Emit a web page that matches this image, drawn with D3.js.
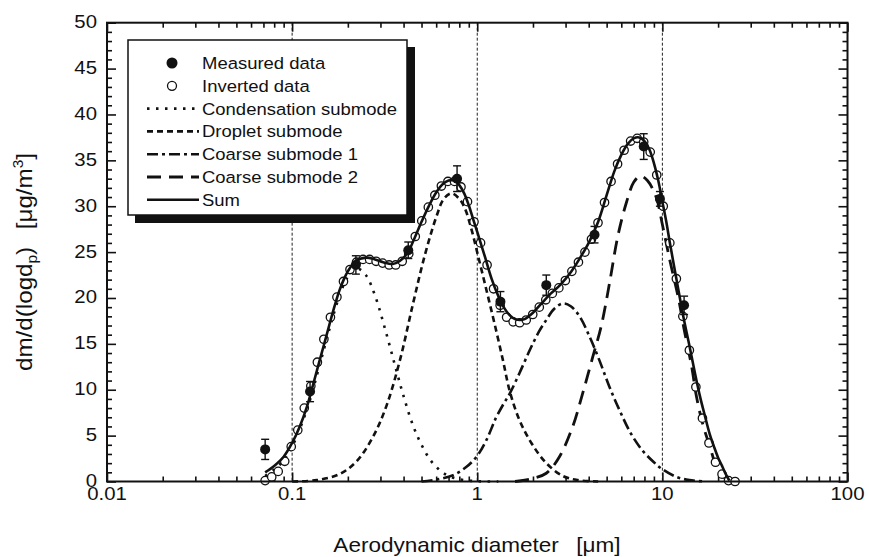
<!DOCTYPE html>
<html>
<head>
<meta charset="utf-8">
<script src="https://cdn.jsdelivr.net/npm/d3@7"></script>
<style>
  body { margin: 0; background: #fff; }
  text { font-family: "Liberation Sans", Arial, Helvetica, sans-serif; fill: #111; }
</style>
</head>
<body>
<svg id="chart" width="869" height="557"></svg>
<script>
// --- data: [diameter (um), dm/dlogdp (ug/m3)] ---
const xTickValues = [0.01, 0.1, 1, 10, 100];
const xTickLabels = ["0.01", "0.1", "1", "10", "100"];
const yTickValues = [0, 5, 10, 15, 20, 25, 30, 35, 40, 45, 50];
const gridDiameters = [0.1, 1, 10];

// measured: [d, value, error]
const measured = [
  [0.0715, 3.5, 1.1], [0.125, 9.8, 1.1], [0.221, 23.6, 1.0], [0.424, 25.2, 0.9],
  [0.778, 33.0, 1.4], [1.334, 19.6, 1.1], [2.36, 21.4, 1.1], [4.30, 26.9, 0.9],
  [7.93, 36.5, 1.4], [9.7, 30.8, 0.8], [13.1, 19.2, 1.0]
];

const inverted = [
  [0.0715, 0.1], [0.0776, 0.5], [0.0841, 1.1], [0.0912, 2.2], [0.0989, 3.8], [0.1073, 5.6],
  [0.1163, 8.0], [0.1262, 10.4], [0.1369, 13.0], [0.1484, 15.5], [0.161, 17.9], [0.1746, 20.1],
  [0.1894, 21.8], [0.2054, 23.1], [0.2228, 23.9], [0.2416, 24.2], [0.2621, 24.2], [0.2842, 24.0],
  [0.3083, 23.8], [0.3344, 23.6], [0.3626, 23.6], [0.3933, 24.0], [0.4265, 24.8], [0.4626, 26.7],
  [0.5017, 28.4], [0.5442, 29.9], [0.5902, 31.2], [0.6401, 32.2], [0.6943, 32.7], [0.753, 32.7],
  [0.8167, 32.1], [0.8857, 30.5], [0.9605, 28.3], [1.042, 26.0], [1.13, 23.6], [1.225, 21.0],
  [1.329, 19.2], [1.441, 17.9], [1.563, 17.4], [1.695, 17.3], [1.839, 17.6], [1.994, 18.2],
  [2.163, 19.0], [2.346, 19.8], [2.544, 20.5], [2.759, 21.1], [2.992, 21.9], [3.245, 22.9],
  [3.52, 23.9], [3.817, 25.0], [4.14, 26.4], [4.49, 28.2], [4.87, 30.4], [5.282, 32.7],
  [5.728, 34.6], [6.213, 36.1], [6.738, 37.1], [7.308, 37.4], [7.926, 37.0], [8.596, 35.9],
  [9.323, 33.4], [10.11, 30.0], [10.97, 26.0], [11.9, 22.1], [12.9, 18.0], [13.99, 14.3],
  [15.17, 10.3], [16.46, 6.9], [17.85, 4.2], [19.36, 2.1], [21.0, 0.8], [22.77, 0.1], [24.7, 0.0]
];

const condensation = [
  [0.0715, 0.6], [0.08, 1.3], [0.09, 2.3], [0.1, 3.8], [0.12, 7.8], [0.14, 12.5], [0.16, 16.8],
  [0.18, 20.2], [0.2, 22.3], [0.225, 23.2], [0.25, 22.5], [0.28, 20.3], [0.32, 16.4], [0.36, 12.6],
  [0.4, 9.3], [0.45, 6.1], [0.5, 4.0], [0.56, 2.3], [0.63, 1.2], [0.7, 0.6], [0.8, 0.25],
  [0.9, 0.1], [1.0, 0.03], [1.3, 0]
];

const droplet = [
  [0.1, 0.0], [0.136, 0.15], [0.18, 0.8], [0.223, 2.2], [0.274, 4.9], [0.324, 8.3], [0.382, 13.2],
  [0.45, 19.4], [0.52, 24.6], [0.6, 28.8], [0.66, 30.8], [0.726, 31.4], [0.8, 30.8], [0.856, 29.8],
  [0.93, 27.5], [1.01, 24.6], [1.12, 20.9], [1.24, 17.2], [1.377, 13.2], [1.5, 9.8], [1.69, 6.7],
  [1.96, 4.2], [2.36, 2.0], [2.9, 0.6], [3.5, 0.15], [4.5, 0]
];

const coarse1 = [
  [0.5, 0], [0.6, 0.2], [0.741, 0.7], [0.875, 1.6], [1.0, 2.8], [1.12, 4.5], [1.26, 6.9],
  [1.4, 8.6], [1.5, 9.6], [1.69, 11.8], [1.92, 14.3], [2.15, 16.3], [2.36, 17.6], [2.6, 18.8],
  [2.9, 19.4], [3.2, 19.1], [3.57, 18.0], [4.04, 15.8], [4.57, 13.2], [5.18, 10.3], [5.86, 7.8],
  [6.75, 5.25], [7.79, 3.4], [9.0, 2.1], [9.9, 1.4], [11.9, 0.5], [14, 0.15], [17, 0]
];

const coarse2 = [
  [1.6, 0], [1.92, 0.25], [2.36, 0.9], [2.78, 2.7], [3.28, 6.0], [3.71, 9.6], [4.21, 13.6],
  [4.67, 16.9], [5.18, 21.6], [5.74, 26.7], [6.37, 30.3], [7.0, 32.6], [7.6, 33.3], [8.3, 32.8],
  [9.25, 31.0], [10.0, 28.0], [11.0, 24.0], [12.2, 20.0], [13.1, 16.6], [14.4, 12.5], [15.3, 9.2],
  [16.6, 6.1], [18.2, 3.6], [19.4, 1.8], [21.3, 0.5], [23.0, 0]
];

const sum = [
  [0.0715, 1.0], [0.08, 1.7], [0.09, 2.7], [0.1, 4.2], [0.11, 6.0], [0.12, 8.1], [0.13, 10.6],
  [0.14, 13.0], [0.15, 15.2], [0.16, 17.3], [0.17, 19.2], [0.18, 20.8], [0.19, 22.0], [0.2, 22.9],
  [0.22, 24.0], [0.25, 24.4], [0.28, 24.2], [0.31, 23.9], [0.35, 23.7], [0.38, 24.0], [0.42, 24.9],
  [0.46, 26.6], [0.5, 28.3], [0.55, 30.1], [0.6, 31.5], [0.65, 32.4], [0.7, 32.8], [0.75, 32.8],
  [0.8, 32.3], [0.85, 31.4], [0.9, 30.1], [0.95, 28.6], [1.0, 27.2], [1.1, 24.5], [1.2, 22.0],
  [1.3, 20.2], [1.4, 18.9], [1.5, 18.1], [1.6, 17.7], [1.7, 17.6], [1.8, 17.7], [2.0, 18.4],
  [2.2, 19.3], [2.5, 20.5], [2.8, 21.4], [3.2, 22.8], [3.6, 24.4], [4.0, 26.0], [4.5, 28.3],
  [5.0, 31.2], [5.5, 33.8], [6.0, 35.6], [6.5, 36.8], [7.0, 37.4], [7.5, 37.5], [8.0, 37.1],
  [8.5, 36.2], [9.0, 34.7], [9.5, 32.8], [10.0, 30.5], [10.5, 28.3], [11.0, 25.9], [12.0, 21.7],
  [13.0, 17.9], [14.0, 14.8], [15.0, 11.8], [16.0, 9.2], [17.0, 7.1], [18.0, 5.2], [19.0, 3.8],
  [20.0, 2.6], [21.0, 1.7], [22.0, 0.8], [23.0, 0.1]
];

const legendLabels = ["Measured data", "Inverted data", "Condensation submode", "Droplet submode",
  "Coarse submode 1", "Coarse submode 2", "Sum"];

// --- layout ---
const STRETCH = 1.1;
const margin = { top: 22.7, left: 107 },
  width = 740.5,
  height = 458.8;

const svg = d3.select("#chart");
const g = svg.append("g").attr("transform", `translate(${margin.left},${margin.top})`);

const x = d3.scaleLog().domain([0.01, 100]).range([0, width]);
const y = d3.scaleLinear().domain([0, 50]).range([height, 0]);

function label(parent, txt, px, py, size, anchor) {
  return parent.append("text")
    .attr("transform", `translate(${px},${py}) scale(${STRETCH},1)`)
    .attr("text-anchor", anchor)
    .attr("font-size", size)
    .text(txt);
}

// vertical dotted grid lines at decades
g.selectAll(".grid")
  .data(gridDiameters)
  .enter()
  .append("line")
  .attr("x1", d => x(d)).attr("x2", d => x(d))
  .attr("y1", 0).attr("y2", height)
  .attr("stroke", "#222").attr("stroke-width", 1).attr("stroke-dasharray", "3,2");

// ticks (inward on all four sides)
const minorX = x.ticks().filter(d => !xTickValues.includes(d));
const minorY = d3.range(0, 51, 1).filter(d => d % 5 !== 0);

function tickAxis(axisFn, scale, values, size, transform) {
  g.append("g")
    .attr("transform", transform)
    .call(axisFn(scale).tickValues(values).tickSize(size).tickFormat(""))
    .call(a => a.select(".domain").remove())
    .call(a => a.selectAll("line").attr("stroke", "#111").attr("stroke-width", 1.6));
}
tickAxis(d3.axisBottom, x, xTickValues, -9, `translate(0,${height})`);
tickAxis(d3.axisBottom, x, minorX, -5, `translate(0,${height})`);
tickAxis(d3.axisTop, x, xTickValues, -9, "translate(0,0)");
tickAxis(d3.axisTop, x, minorX, -5, "translate(0,0)");
tickAxis(d3.axisLeft, y, yTickValues, -9, "translate(0,0)");
tickAxis(d3.axisLeft, y, minorY, -5, "translate(0,0)");
tickAxis(d3.axisRight, y, yTickValues, -9, `translate(${width},0)`);
tickAxis(d3.axisRight, y, minorY, -5, `translate(${width},0)`);

// tick labels
xTickValues.forEach((d, i) => label(g, xTickLabels[i], x(d), height + 18.5, 18.5, "middle"));
yTickValues.forEach(d => label(g, String(d), -10, y(d) + 5.5, 18.5, "end"));

// component curves
const line = d3.line()
  .x(d => x(d[0]))
  .y(d => y(d[1]))
  .curve(d3.curveCatmullRom.alpha(0.5));

const styles = [
  { data: condensation, dash: "2.5,6.5", width: 2.6 },
  { data: droplet, dash: "6,4", width: 2.6 },
  { data: coarse1, dash: "11,4,3,4", width: 2.6 },
  { data: coarse2, dash: "14,8", width: 2.8 }
];
styles.forEach(s => {
  g.append("path")
    .datum(s.data)
    .attr("fill", "none")
    .attr("stroke", "#111")
    .attr("stroke-width", s.width)
    .attr("stroke-dasharray", s.dash)
    .attr("d", line);
});

// inverted data (open circles)
g.selectAll(".inv")
  .data(inverted)
  .enter()
  .append("circle")
  .attr("cx", d => x(d[0]))
  .attr("cy", d => y(d[1]))
  .attr("r", 4.2)
  .attr("fill", "#fff")
  .attr("stroke", "#111")
  .attr("stroke-width", 1.3);

// sum curve
g.append("path")
  .datum(sum)
  .attr("fill", "none")
  .attr("stroke", "#111")
  .attr("stroke-width", 2.6)
  .attr("d", line);

// measured data with error bars
const meas = g.selectAll(".meas").data(measured).enter().append("g");
meas.append("line")
  .attr("x1", d => x(d[0])).attr("x2", d => x(d[0]))
  .attr("y1", d => y(d[1] - d[2])).attr("y2", d => y(d[1] + d[2]))
  .attr("stroke", "#111").attr("stroke-width", 1.4);
meas.append("line")
  .attr("x1", d => x(d[0]) - 4).attr("x2", d => x(d[0]) + 4)
  .attr("y1", d => y(d[1] + d[2])).attr("y2", d => y(d[1] + d[2]))
  .attr("stroke", "#111").attr("stroke-width", 1.4);
meas.append("line")
  .attr("x1", d => x(d[0]) - 4).attr("x2", d => x(d[0]) + 4)
  .attr("y1", d => y(d[1] - d[2])).attr("y2", d => y(d[1] - d[2]))
  .attr("stroke", "#111").attr("stroke-width", 1.4);
meas.append("circle")
  .attr("cx", d => x(d[0]))
  .attr("cy", d => y(d[1]))
  .attr("r", 5)
  .attr("fill", "#111");

// frame
g.append("rect")
  .attr("width", width).attr("height", height)
  .attr("fill", "none").attr("stroke", "#111").attr("stroke-width", 2);

// axis titles
const xt = svg.append("text")
  .attr("transform", `translate(477,552) scale(${STRETCH},1)`)
  .attr("text-anchor", "middle").attr("font-size", 20.5);
xt.append("tspan").text("Aerodynamic diameter");
xt.append("tspan").attr("dx", 16).text("[μm]");

const yt = svg.append("text")
  .attr("transform", `translate(32,262) rotate(-90) scale(${STRETCH},1)`)
  .attr("text-anchor", "middle").attr("font-size", 22);
yt.append("tspan").text("dm/d(logd");
yt.append("tspan").attr("font-size", 14).attr("dy", 5).text("p");
yt.append("tspan").attr("dy", -5).text(")");
yt.append("tspan").attr("dx", 16).text("[μg/m");
yt.append("tspan").attr("font-size", 14).attr("dy", -9).text("3");
yt.append("tspan").attr("dy", 9).text("]");

// legend
const lg = svg.append("g");
lg.append("rect").attr("x", 135).attr("y", 47).attr("width", 280).attr("height", 176).attr("fill", "#111");
lg.append("rect").attr("x", 128).attr("y", 40).attr("width", 279).attr("height", 175)
  .attr("fill", "#fff").attr("stroke", "#111").attr("stroke-width", 1.5);

const rowY = i => 63 + 22.8 * i;
lg.append("circle").attr("cx", 172).attr("cy", rowY(0)).attr("r", 5.5).attr("fill", "#111");
lg.append("circle").attr("cx", 172).attr("cy", rowY(1)).attr("r", 4.5)
  .attr("fill", "#fff").attr("stroke", "#111").attr("stroke-width", 1.3);
styles.concat([{ dash: null, width: 2.6 }]).forEach((s, i) => {
  lg.append("line")
    .attr("x1", 147).attr("x2", 199)
    .attr("y1", rowY(i + 2)).attr("y2", rowY(i + 2))
    .attr("stroke", "#111").attr("stroke-width", s.width)
    .attr("stroke-dasharray", s.dash);
});
legendLabels.forEach((t, i) => label(lg, t, 202, rowY(i) + 6, 16.8, "start"));
</script>
</body>
</html>
